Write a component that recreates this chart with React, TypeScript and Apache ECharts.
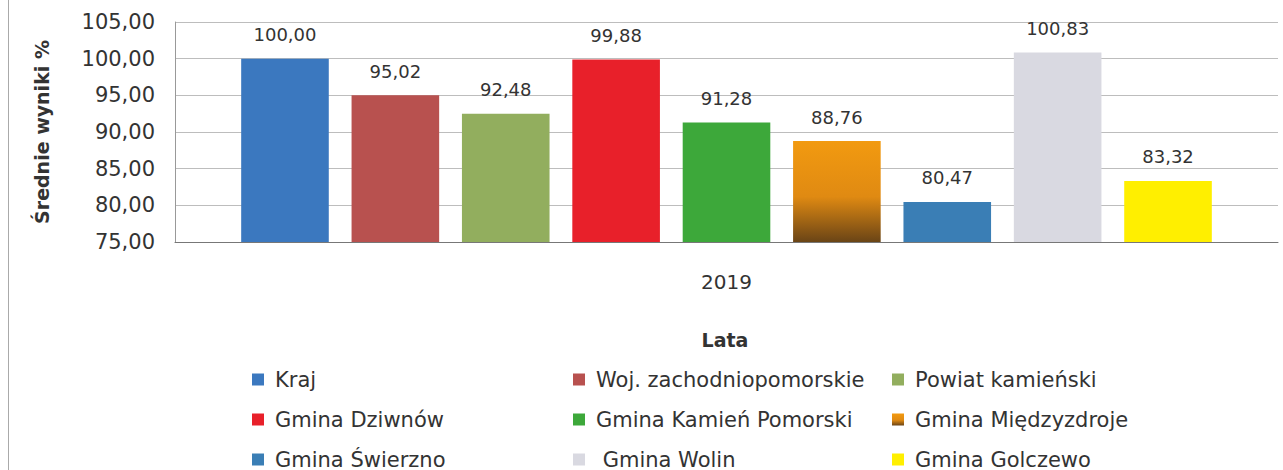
import React, { useEffect, useRef } from "react";
import * as echarts from "echarts";

const categories = ["2019"];
const seriesNames = [
  "Kraj",
  "Woj. zachodniopomorskie",
  "Powiat kamieński",
  "Gmina Dziwnów",
  "Gmina Kamień Pomorski",
  "Gmina Międzyzdroje",
  "Gmina Świerzno",
  "Gmina Wolin",
  "Gmina Golczewo",
];
const seriesValues = [100.0, 95.02, 92.48, 99.88, 91.28, 88.76, 80.47, 100.83, 83.32];
const yTicks = { min: 75, max: 105, interval: 5 };
const legendColumns = [
  ["Kraj", "Gmina Dziwnów", "Gmina Świerzno"],
  ["Woj. zachodniopomorskie", "Gmina Kamień Pomorski", "Gmina Wolin"],
  ["Powiat kamieński", "Gmina Międzyzdroje", "Gmina Golczewo"],
];

const FONT = "DejaVu Sans";

export default function App() {
  const ref = useRef<HTMLDivElement>(null);
  useEffect(() => {
    const chart = echarts.init(ref.current!, null, { renderer: "svg" });
    const colors: any[] = [
      "#3B78BF",
      "#B8514F",
      "#92AE5E",
      "#E8202A",
      "#3DA83A",
      new echarts.graphic.LinearGradient(0, 0, 0, 1, [
        { offset: 0, color: "#F29A10" },
        { offset: 0.55, color: "#E08A12" },
        { offset: 1, color: "#6A4416" },
      ]),
      "#3A7EB5",
      "#D9D9E1",
      "#FFEF00",
    ];
    const fmt = (v: number) => v.toFixed(2).replace(".", ",");
    const series = seriesNames.map((name, i) => ({
      name,
      type: "bar",
      data: [seriesValues[i]],
      barGap: "26%",
      barCategoryGap: "12%",
      itemStyle: { color: colors[i] },
      label: {
        show: true,
        position: "top",
        distance: 15,
        formatter: (p: any) => fmt(p.value),
        color: "#333",
        fontFamily: FONT,
        fontSize: 18,
      },
    }));
    const legends = legendColumns.map((col, ci) => ({
      orient: "vertical",
      left: [252, 573, 892][ci],
      top: 369,
      padding: 0,
      itemWidth: 12,
      itemHeight: 12,
      itemGap: 19,
      icon: "rect",
      data: col,
      formatter: (n: string) => (n === "Gmina Wolin" ? " " + n : n),
      textStyle: {
        fontFamily: FONT,
        fontSize: 21,
        color: "#333",
        lineHeight: 20,
        padding: [0, 0, 0, 6],
      },
    }));
    chart.setOption({
      animation: false,
      grid: { left: 175, right: 5, top: 22, bottom: 228, containLabel: false },
      xAxis: {
        type: "category",
        data: categories,
        axisTick: { show: false },
        axisLine: { lineStyle: { color: "#777" } },
        axisLabel: { margin: 30, fontFamily: FONT, fontSize: 20, color: "#333" },
      },
      yAxis: {
        type: "value",
        min: yTicks.min,
        max: yTicks.max,
        interval: yTicks.interval,
        name: "Średnie wyniki %",
        nameLocation: "middle",
        nameGap: 124,
        nameTextStyle: { fontFamily: FONT, fontSize: 19, fontWeight: "bold", color: "#333" },
        axisLine: { show: true, lineStyle: { color: "#999" } },
        axisTick: { show: false },
        splitLine: { lineStyle: { color: "#bdbdbd" } },
        axisLabel: {
          margin: 20,
          fontFamily: FONT,
          fontSize: 21,
          color: "#333",
          formatter: (v: number) => fmt(v),
        },
      },
      legend: legends,
      graphic: [
        {
          type: "text",
          x: 725,
          y: 340,
          style: {
            text: "Lata",
            fontFamily: FONT,
            fontSize: 19,
            fontWeight: "bold",
            fill: "#333",
            align: "center",
            verticalAlign: "middle",
          },
        },
        {
          type: "line",
          shape: { x1: 8.5, y1: 0, x2: 8.5, y2: 470 },
          style: { stroke: "#aaa", lineWidth: 1 },
        },
      ],
      series,
    });
    return () => chart.dispose();
  }, []);
  return (
    <div
      ref={ref}
      style={{ position: "fixed", left: 0, top: 0, width: 1283, height: 470, background: "#fff" }}
    />
  );
}
